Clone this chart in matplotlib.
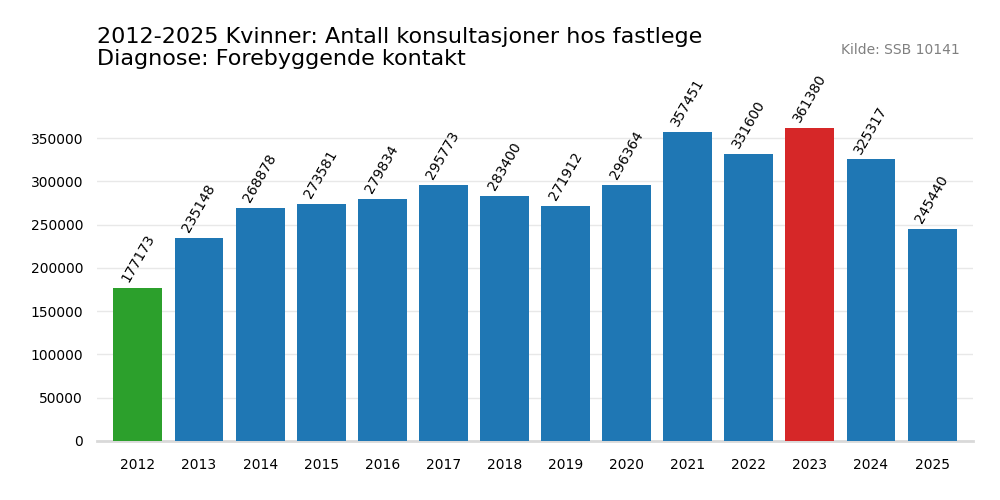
import matplotlib.pyplot as plt

years = [2012, 2013, 2014, 2015, 2016, 2017, 2018, 2019, 2020, 2021, 2022, 2023, 2024, 2025]
values = [177173, 235148, 268878, 273581, 279834, 295773, 283400, 271912, 296364, 357451, 331600, 361380, 325317, 245440]

colors = []
for v in values:
    if v == min(values):
        colors.append('#2ca02c')
    elif v == max(values):
        colors.append('#d62728')
    else:
        colors.append('#1f77b4')

fig = plt.figure(figsize=(10, 5), dpi=100)
ax = fig.add_axes([0.097, 0.118, 0.876, 0.688])

x = list(range(len(years)))
ax.bar(x, values, width=0.8, color=colors, zorder=3)

for xi, v in zip(x, values):
    ax.text(xi - 0.12, v + 4000, str(v), rotation=60, ha='left', va='bottom',
            fontsize=10, rotation_mode='anchor')

ax.set_xticks(x)
ax.set_xticklabels([str(y) for y in years])
ax.set_xlim(-0.67, len(years) - 0.33)
ax.set_ylim(0, max(values) * 1.1)
ax.set_yticks(range(0, 350001, 50000))
ax.grid(axis='y', color='#e8e8e8', linewidth=1, zorder=0)
ax.tick_params(length=0, labelsize=10)
ax.tick_params(axis='x', pad=12)
ax.tick_params(axis='y', pad=10)
for s in ['top', 'right', 'left']:
    ax.spines[s].set_visible(False)
ax.spines['bottom'].set_color('#d9d9d9')
ax.spines['bottom'].set_linewidth(2)

fig.text(0.097, 0.862, "2012-2025 Kvinner: Antall konsultasjoner hos fastlege\nDiagnose: Forebyggende kontakt",
         fontsize=16, ha='left', va='bottom', linespacing=1.1)
fig.text(0.96, 0.9, "Kilde: SSB 10141", fontsize=10, color='gray', ha='right', va='center')

fig.savefig("out.png", dpi=100)
